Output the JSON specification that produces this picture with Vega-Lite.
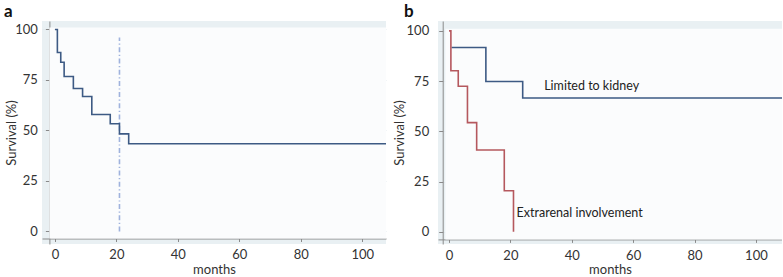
{
  "$schema": "https://vega.github.io/schema/vega-lite/v6.json",
  "padding": {"left": 4, "top": 3, "right": 0, "bottom": 0},
  "background": "white",
  "spacing": 7,
  "config": {
    "font": "Lato",
    "view": {"fill": "#e9f0f3", "stroke": null},
    "axis": {
      "zindex": 1,
      "domainColor": "#8a8a8a",
      "tickColor": "#8a8a8a",
      "tickSize": 4,
      "gridColor": "#e3ebef",
      "labelColor": "#333333",
      "labelFont": "Lato",
      "labelFontSize": 13,
      "titleColor": "#333333",
      "titleFont": "Lato",
      "titleFontSize": 13,
      "titleFontWeight": "normal"
    },
    "title": {"font": "Lato", "fontSize": 17, "fontWeight": "bold", "color": "#111111", "anchor": "start", "frame": "group", "baseline": "alphabetic"}
  },
  "datasets": {
    "overall": [
      {"month": 0, "survival": 100},
      {"month": 0.8, "survival": 88.6},
      {"month": 1.9, "survival": 83.8},
      {"month": 3, "survival": 76.7},
      {"month": 6, "survival": 70.8},
      {"month": 9, "survival": 66.8},
      {"month": 12, "survival": 57.9},
      {"month": 18, "survival": 53.3},
      {"month": 21, "survival": 48.3},
      {"month": 24, "survival": 43.4},
      {"month": 115, "survival": 43.4}
    ],
    "median": [{"month": 21, "from": 0, "to": 96}],
    "frameA": [{"x1": -1.8, "x2": 115, "y1": -3.5, "y2": 101}],
    "frameB": [{"x1": -1.2, "x2": 115, "y1": -3.8, "y2": 101}],
    "groups": [
      {"group": "Limited to kidney", "month": 0.8, "survival": 91.7},
      {"group": "Limited to kidney", "month": 12, "survival": 74.8},
      {"group": "Limited to kidney", "month": 24, "survival": 66.6},
      {"group": "Limited to kidney", "month": 115, "survival": 66.6},
      {"group": "Extrarenal involvement", "month": 0, "survival": 100},
      {"group": "Extrarenal involvement", "month": 0.6, "survival": 80.1},
      {"group": "Extrarenal involvement", "month": 3, "survival": 72.4},
      {"group": "Extrarenal involvement", "month": 6, "survival": 54.3},
      {"group": "Extrarenal involvement", "month": 9, "survival": 40.7},
      {"group": "Extrarenal involvement", "month": 18, "survival": 20.4},
      {"group": "Extrarenal involvement", "month": 21, "survival": 0}
    ],
    "labels": [
      {"group": "Limited to kidney", "month": 31, "survival": 72.7},
      {"group": "Extrarenal involvement", "month": 22, "survival": 9.5}
    ]
  },
  "hconcat": [
    {
      "width": 344,
      "height": 223,
      "title": {"text": "a", "dx": -38, "offset": 0},
      "layer": [
        {
          "data": {"name": "frameA"},
          "mark": {"type": "rect", "fill": "#fbfcfd", "clip": true},
          "encoding": {
            "x": {"field": "x1", "type": "quantitative", "scale": {"domain": [-4.2, 107.7], "nice": false, "zero": false},
              "axis": {"title": "months", "values": [0, 20, 40, 60, 80, 100], "grid": false, "offset": -5.5, "tickSize": 3, "labelPadding": 7, "titlePadding": 2}},
            "x2": {"field": "x2"},
            "y": {"field": "y1", "type": "quantitative", "scale": {"domain": [-6.2, 104.2], "nice": false, "zero": false},
              "axis": {"title": "Survival (%)", "values": [0, 25, 50, 75, 100], "grid": true, "offset": -7.4, "labelPadding": 8, "titlePadding": -4}},
            "y2": {"field": "y2"}
          }
        },
        {
          "data": {"name": "median"},
          "mark": {"type": "rule", "color": "#9fb2dd", "strokeWidth": 1.6, "strokeDash": [5, 2.5, 1.2, 2.5]},
          "encoding": {
            "x": {"field": "month", "type": "quantitative"},
            "y": {"field": "from", "type": "quantitative"},
            "y2": {"field": "to"}
          }
        },
        {
          "data": {"name": "overall"},
          "mark": {"type": "line", "interpolate": "step-after", "color": "#3d5a84", "strokeWidth": 1.6, "clip": true},
          "encoding": {
            "x": {"field": "month", "type": "quantitative"},
            "y": {"field": "survival", "type": "quantitative"}
          }
        }
      ]
    },
    {
      "width": 344,
      "height": 223,
      "title": {"text": "b", "dx": -34, "offset": 0},
      "layer": [
        {
          "data": {"name": "frameB"},
          "mark": {"type": "rect", "fill": "#fbfcfd", "clip": true},
          "encoding": {
            "x": {"field": "x1", "type": "quantitative", "scale": {"domain": [-3.6, 108.5], "nice": false, "zero": false},
              "axis": {"title": "months", "values": [0, 20, 40, 60, 80, 100], "grid": false, "offset": -4.6, "tickSize": 3, "labelPadding": 7, "titlePadding": 1}},
            "x2": {"field": "x2"},
            "y": {"field": "y1", "type": "quantitative", "scale": {"domain": [-6.1, 104.9], "nice": false, "zero": false},
              "axis": {"title": "Survival (%)", "values": [0, 25, 50, 75, 100], "grid": true, "offset": -4.7, "labelPadding": 10, "titlePadding": 0}},
            "y2": {"field": "y2"}
          }
        },
        {
          "data": {"name": "groups"},
          "mark": {"type": "line", "interpolate": "step-after", "strokeWidth": 1.6, "clip": true},
          "encoding": {
            "x": {"field": "month", "type": "quantitative"},
            "y": {"field": "survival", "type": "quantitative"},
            "color": {"field": "group", "type": "nominal", "legend": null,
              "scale": {"domain": ["Limited to kidney", "Extrarenal involvement"], "range": ["#3d5a84", "#b5585e"]}}
          }
        },
        {
          "data": {"name": "labels"},
          "mark": {"type": "text", "align": "left", "baseline": "middle", "font": "Lato", "fontSize": 12.5, "color": "#222222"},
          "encoding": {
            "x": {"field": "month", "type": "quantitative"},
            "y": {"field": "survival", "type": "quantitative"},
            "text": {"field": "group"}
          }
        }
      ]
    }
  ]
}
